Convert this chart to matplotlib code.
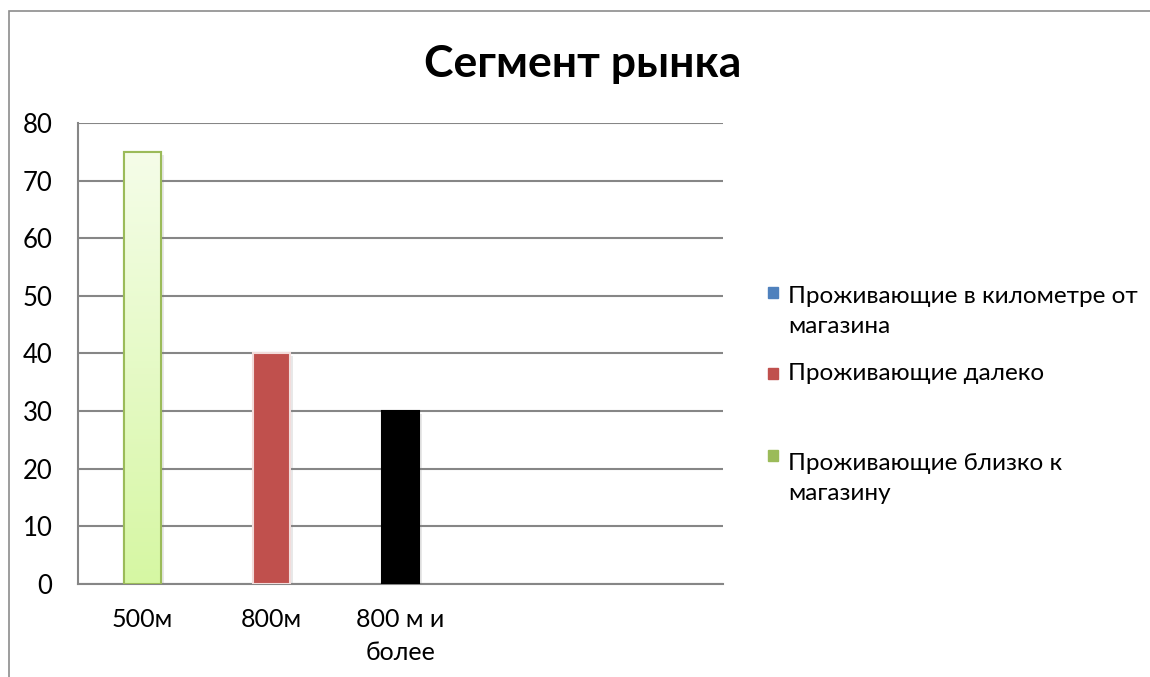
import numpy as np
import matplotlib
matplotlib.use("Agg")
import matplotlib.pyplot as plt
import matplotlib.patheffects as pe
from matplotlib.colors import LinearSegmentedColormap
from matplotlib.patches import Rectangle

plt.rcParams['font.family'] = ['Lato', 'DejaVu Sans']

# data
categories = ['500м', '800м', '800 м и\nболее']
values = [75, 40, 30]
n_slots = 5  # excel kept 5 category slots, two are empty

series_names = ['Проживающие в километре от\nмагазина',
                'Проживающие далеко',
                'Проживающие близко к\nмагазину']
series_colors = ['#4f81bd', '#c0504d', '#9bbb59']

bar_faces = ['#e6f9c8', '#c0504d', '#000000']
bar_edges = ['#9bbb59', '#f2dcdb', '#000000']

fig = plt.figure(figsize=(11.5, 6.77), dpi=100)
ax = fig.add_axes([0.0678, 0.1374, 0.5609, 0.6809])

x = np.arange(len(values))
shadow = [pe.SimplePatchShadow(offset=(2, -2), alpha=0.18, shadow_rgbFace='gray'), pe.Normal()]
bars = ax.bar(x, values, width=0.29, color=bar_faces, edgecolor=bar_edges,
              linewidth=1.5, zorder=3)
for b in bars:
    b.set_path_effects(shadow)

# gradient fill for the first bar
b0 = bars[0]
grad = LinearSegmentedColormap.from_list('g', ['#d6f7a3', '#f5fde9'])
img = ax.imshow(np.linspace(0, 1, 256).reshape(-1, 1), cmap=grad, aspect='auto',
                origin='lower',
                extent=[b0.get_x(), b0.get_x() + b0.get_width(), 0, b0.get_height()],
                zorder=3.5)
img.set_clip_path(b0)
ax.bar(x[:1], values[:1], width=0.29, color='none', edgecolor=bar_edges[0],
       linewidth=1.5, zorder=4)

ax.set_xlim(-0.5, n_slots - 0.5)
ax.set_ylim(0, 80)
ax.set_yticks(np.arange(0, 81, 10))
ax.set_xticks(x)
ax.set_xticklabels(categories, fontsize=18, linespacing=1.55)
ax.tick_params(axis='y', length=0, pad=18.5, labelsize=18.5)
ax.tick_params(axis='x', length=0, pad=17)
ax.grid(axis='y', color='#868686', linewidth=1.5, zorder=0)
ax.set_axisbelow(True)
for s in ['top', 'right']:
    ax.spines[s].set_visible(False)
for s in ['left', 'bottom']:
    ax.spines[s].set_color('#868686')
    ax.spines[s].set_linewidth(1.5)

fig.text(0.507, 0.886, 'Сегмент рынка', ha='center', va='baseline',
         fontsize=32, fontweight='bold')

# legend drawn by hand, entries are not evenly spaced in the original
square_y = [298, 379, 461]
text_y = [333, 380, 500]  # baseline of the last line of each entry
for name, col, sy, ty in zip(series_names, series_colors, square_y, text_y):
    fig.patches.append(Rectangle((768 / 1150, 1 - sy / 677), 10 / 1150, 11 / 677,
                                 transform=fig.transFigure, color=col))
    fig.text(788 / 1150, 1 - ty / 677, name, ha='left', va='baseline',
             fontsize=17.5, linespacing=1.55)

# outer chart border
fig.patches.append(Rectangle((9 / 1150, -0.1), 1.2, 1 - 11 / 677 + 0.1,
                             transform=fig.transFigure, fill=False,
                             edgecolor='#8c8c8c', linewidth=1.2))

fig.savefig('out.png', dpi=100)
